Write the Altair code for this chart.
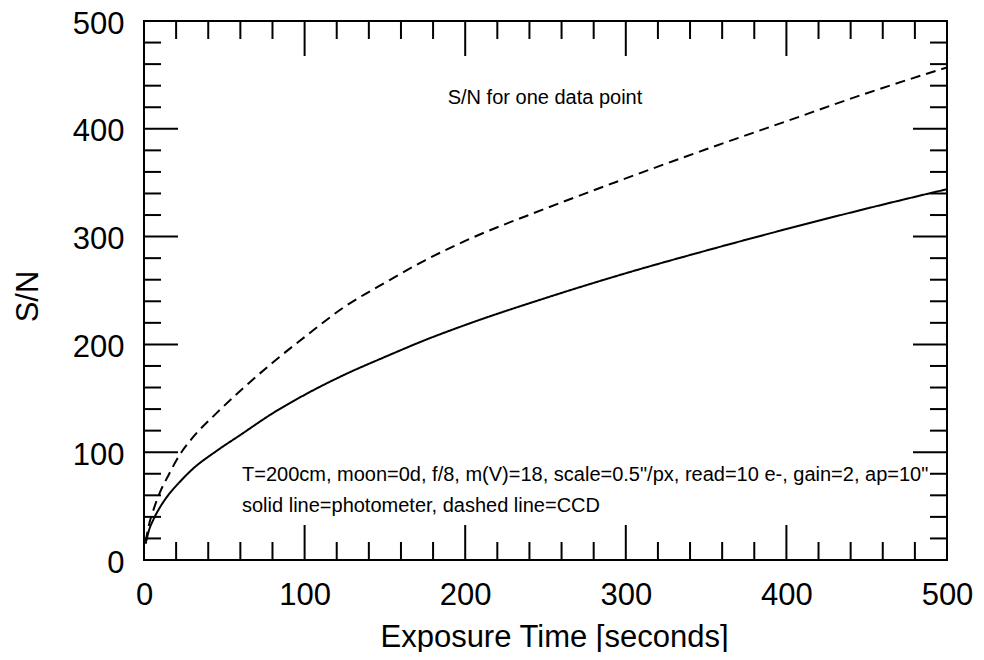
import altair as alt
import pandas as pd

# Data
t_sec = [1, 3, 6, 10, 15, 22, 30, 45, 60, 80, 101, 125, 151, 175, 200, 250, 300, 350, 400, 450, 500]
sn_photometer = [15, 27, 38, 49, 60, 72, 84, 101, 116, 136, 154, 172, 189, 204, 218, 243, 266, 287, 307, 326, 344]
sn_ccd = [17, 32, 47, 63, 78, 97, 113, 136, 157, 183, 208, 235, 258, 278, 296, 326, 354, 381, 407, 433, 457]

tick_labels = [0, 100, 200, 300, 400, 500]
major_ticks = [100, 200, 300, 400]
minor_ticks = [v for v in range(20, 500, 20) if v % 100 != 0]

title_text = "S/N for one data point"
note1 = 'T=200cm, moon=0d, f/8, m(V)=18, scale=0.5"/px, read=10 e-, gain=2, ap=10"'
note2 = "solid line=photometer, dashed line=CCD"

W, H = 803, 539
FONT = "Liberation Sans"

df = pd.DataFrame({
    "t": t_sec * 2,
    "sn": sn_photometer + sn_ccd,
    "det": ["photometer"] * len(t_sec) + ["CCD"] * len(t_sec),
})

xs = alt.Scale(domain=[0, 500], nice=False, zero=False)
ys = alt.Scale(domain=[0, 500], nice=False, zero=False)

lines = alt.Chart(df).mark_line(color="black", strokeWidth=2, interpolate="monotone", clip=True).encode(
    x=alt.X("t:Q", scale=xs, axis=alt.Axis(
        values=tick_labels, ticks=False, tickSize=0, domain=False, grid=False,
        labelFont=FONT, labelFontSize=31, labelColor="black", labelPadding=20,
        labelFlush=False,
        title="Exposure Time [seconds]", titleFont=FONT, titleFontSize=31,
        titleFontWeight="normal", titleColor="black", titleBaseline="alphabetic",
        titleY=86, titleX=410)),
    y=alt.Y("sn:Q", scale=ys, axis=alt.Axis(
        values=tick_labels, ticks=False, tickSize=0, domain=False, grid=False,
        labelFont=FONT, labelFontSize=31, labelColor="black", labelPadding=20,
        labelFlush=False, labelOffset=3,
        title="S/N", titleFont=FONT, titleFontSize=31, titleFontWeight="normal",
        titleColor="black", titleBaseline="alphabetic", titleAngle=270,
        titleX=-107, titleY=275)),
    strokeDash=alt.StrokeDash("det:N", scale=alt.Scale(domain=["photometer", "CCD"],
                                                       range=[[1, 0], [10, 6]]), legend=None),
    detail="det:N",
)


def xticks(vals, length):
    d = pd.DataFrame({"v": vals})
    bottom = alt.Chart(d).mark_rule(color="black", strokeWidth=2).encode(
        x=alt.X("v:Q", scale=xs), y=alt.value(H), y2=alt.value(H - length))
    top = alt.Chart(d).mark_rule(color="black", strokeWidth=2).encode(
        x=alt.X("v:Q", scale=xs), y=alt.value(0), y2=alt.value(length))
    return [bottom, top]


def yticks(vals, length):
    d = pd.DataFrame({"v": vals})
    left = alt.Chart(d).mark_rule(color="black", strokeWidth=2).encode(
        y=alt.Y("v:Q", scale=ys), x=alt.value(0), x2=alt.value(length))
    right = alt.Chart(d).mark_rule(color="black", strokeWidth=2).encode(
        y=alt.Y("v:Q", scale=ys), x=alt.value(W), x2=alt.value(W - length))
    return [left, right]


tick_layers = xticks(major_ticks, 35) + xticks(minor_ticks, 18) + yticks(major_ticks, 34) + yticks(minor_ticks, 17)

t1 = alt.Chart(pd.DataFrame({"label": [title_text]})).mark_text(
    font=FONT, fontSize=20, color="black", align="center", baseline="alphabetic").encode(
    text="label:N", x=alt.value(401), y=alt.value(83))
t2 = alt.Chart(pd.DataFrame({"label": [note1]})).mark_text(
    font=FONT, fontSize=20, color="black", align="left", baseline="alphabetic").encode(
    text="label:N", x=alt.value(98), y=alt.value(460))
t3 = alt.Chart(pd.DataFrame({"label": [note2]})).mark_text(
    font=FONT, fontSize=20, color="black", align="left", baseline="alphabetic").encode(
    text="label:N", x=alt.value(98), y=alt.value(491))

chart = alt.layer(lines, *tick_layers, t1, t2, t3).properties(
    width=W, height=H,
    autosize=alt.AutoSizeParams(type="none"),
    padding={"left": 136, "top": 13, "right": 28, "bottom": 92},
    background="white",
).configure_view(stroke="black", strokeWidth=2)

chart.save("out.html", embed_options={"renderer": "svg", "actions": False})
